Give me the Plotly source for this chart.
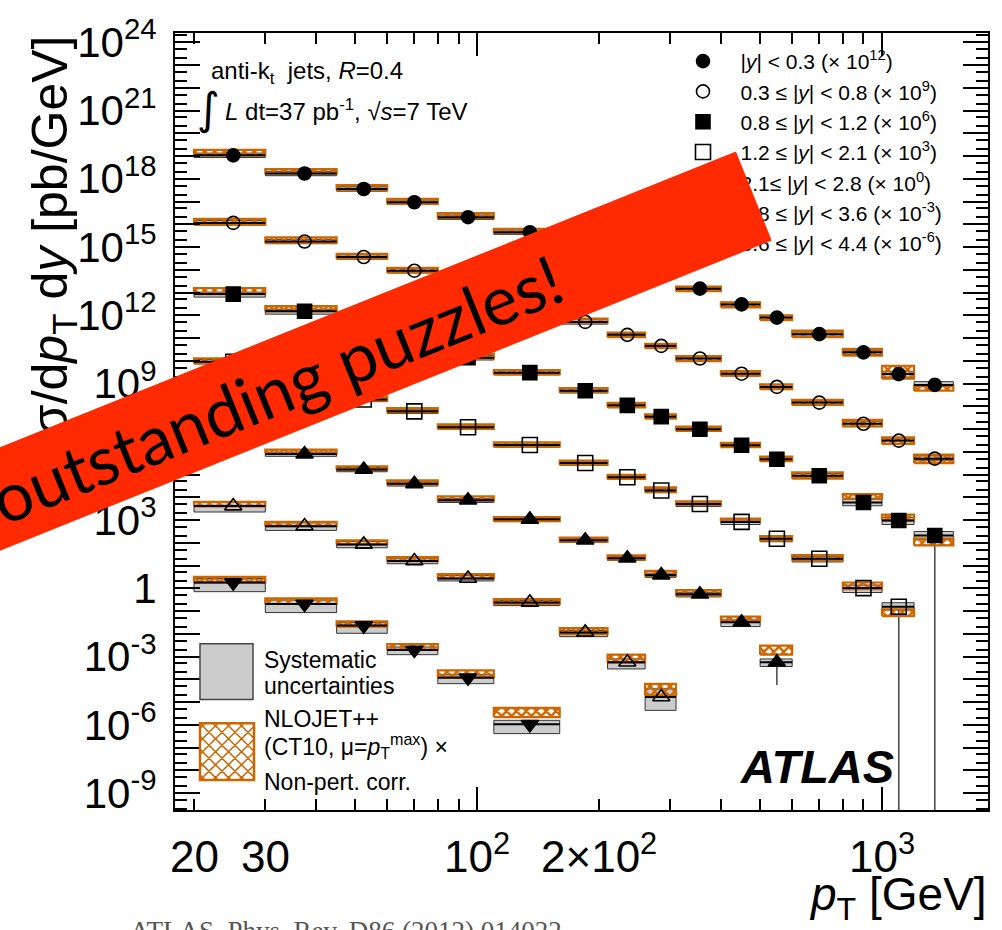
import math
import plotly.graph_objects as go

# ---------------------------------------------------------------- data
PT_EDGES = [20, 30, 45, 60, 80, 110, 160, 210, 260, 310, 400, 500, 600, 800, 1000, 1200, 1500]

RAPIDITY_LABELS = [
    "|<i>y</i>| &lt; 0.3 (× 10<sup>12</sup>)",
    "0.3 ≤ |<i>y</i>| &lt; 0.8 (× 10<sup>9</sup>)",
    "0.8 ≤ |<i>y</i>| &lt; 1.2 (× 10<sup>6</sup>)",
    "1.2 ≤ |<i>y</i>| &lt; 2.1 (× 10<sup>3</sup>)",
    "2.1≤ |<i>y</i>| &lt; 2.8 (× 10<sup>0</sup>)",
    "2.8 ≤ |<i>y</i>| &lt; 3.6 (× 10<sup>-3</sup>)",
    "3.6 ≤ |<i>y</i>| &lt; 4.4 (× 10<sup>-6</sup>)",
]
SCALE_EXP = [12, 9, 6, 3, 0, -3, -6]

# cross sections d2sigma/dpT dy in pb/GeV (before the legend scale factor)
XSEC = [
    [1.07e7, 1.70e6, 3.55e5, 9.3e4, 2.04e4, 4.47e3, 7.9e2, 2.0e2, 60, 14.8, 3.0, 0.79, 0.148, 2.34e-2, 2.6e-3, 8.7e-4],
    [1.15e7, 1.74e6, 3.63e5, 9.1e4, 1.78e4, 3.2e3, 5.1e2, 1.38e2, 45, 12.6, 2.7, 0.71, 0.145, 1.7e-2, 3.1e-3, 5.0e-4],
    [8.5e6, 1.51e6, 2.8e5, 6.2e4, 1.35e4, 3.0e3, 4.8e2, 1.10e2, 35, 9.8, 1.95, 0.47, 8.9e-2, 5.9e-3, 9.5e-4, 2.1e-4],
    [9.1e6, 1.2e6, 2.0e5, 6.0e4, 1.2e4, 2.0e3, 3.2e2, 76, 20, 5.1, 0.83, 0.15, 2.0e-2, 1.02e-3, 1.55e-4],
    [5.8e6, 7.9e5, 1.66e5, 3.9e4, 7.4e3, 1.07e3, 1.29e2, 21, 3.8, 0.55, 3.2e-2, 5.6e-4],
    [4.1e6, 5.4e5, 8.5e4, 1.58e4, 2.7e3, 2.4e2, 11.5, 0.56, 1.66e-2],
    [1.78e6, 2.04e5, 2.29e4, 1.95e3, 1.17e2, 1.05],
]
# systematic uncertainties, percent
SYS_UP = [
    [25, 25, 25, 25, 25, 25, 25, 25, 25, 25, 25, 25, 25, 25, 32, 39],
    [25, 25, 25, 25, 25, 25, 25, 25, 25, 25, 25, 25, 25, 30, 30, 35],
    [22, 22, 25, 25, 25, 25, 25, 25, 25, 25, 25, 25, 25, 40, 35, 50],
    [25, 25, 25, 25, 25, 25, 25, 25, 25, 22, 22, 22, 22, 35, 50],
    [22, 22, 22, 22, 22, 22, 22, 22, 22, 22, 27, 40],
    [50, 40, 35, 35, 35, 22, 22, 40, 130],
    [50, 50, 35, 35, 35, 50],
]
SYS_DN = [
    [20, 20, 20, 20, 20, 20, 20, 20, 20, 20, 20, 20, 20, 20, 28, 16],
    [20, 20, 20, 20, 20, 20, 20, 20, 20, 20, 20, 20, 20, 25, 25, 18],
    [26, 26, 20, 20, 20, 20, 20, 20, 20, 20, 20, 20, 20, 28, 33, 35],
    [20, 20, 20, 20, 20, 20, 20, 20, 20, 23, 23, 26, 28, 36, 28],
    [20, 20, 20, 20, 20, 20, 20, 20, 20, 24, 35, 35],
    [45, 35, 29, 24, 22, 28, 35, 49, 74],
    [60, 58, 54, 38, 45, 61],
]
# NLOJET++ x non-pert. corr. band, as ratio to data (lower / upper edge)
THEORY_LO = [
    [1.00, 1.00, 0.90, 0.84, 0.90, 0.90, 0.86, 0.86, 0.86, 0.78, 0.74, 0.77, 0.74, 0.72, 0.63, 0.56],
    [0.82, 0.87, 0.84, 0.82, 0.82, 0.82, 0.93, 0.79, 0.79, 0.77, 0.82, 0.79, 0.79, 0.76, 0.71, 0.64],
    [1.00, 1.00, 0.95, 0.95, 0.95, 0.84, 0.87, 0.82, 0.84, 0.85, 0.82, 0.82, 0.74, 1.50, 1.00, 0.37],
    [0.84, 0.86, 0.88, 0.90, 0.85, 0.84, 0.85, 0.84, 0.84, 0.88, 1.00, 0.85, 0.85, 0.90, 0.39],
    [0.90, 1.11, 1.00, 0.94, 0.97, 0.84, 0.87, 0.87, 0.93, 0.84, 1.11, 2.17],
    [0.97, 1.00, 1.00, 1.00, 1.00, 0.85, 0.85, 0.97, 1.19],
    [1.00, 1.00, 0.90, 1.00, 1.06, 2.09],
]
THEORY_HI = [
    [1.74, 1.57, 1.50, 1.39, 1.50, 1.42, 1.35, 1.35, 1.35, 1.22, 1.22, 1.27, 1.42, 1.42, 2.33, 0.93],
    [1.50, 1.54, 1.39, 1.35, 1.35, 1.35, 1.39, 1.26, 1.22, 1.27, 1.31, 1.30, 1.31, 1.50, 1.39, 1.50],
    [1.83, 1.66, 1.50, 1.50, 1.50, 1.31, 1.30, 1.27, 1.26, 1.31, 1.27, 1.31, 1.39, 2.33, 1.83, 0.72],
    [1.39, 1.35, 1.35, 1.39, 1.35, 1.30, 1.27, 1.26, 1.35, 1.31, 1.41, 1.31, 1.45, 1.76, 0.77],
    [1.35, 1.56, 1.39, 1.41, 1.50, 1.26, 1.30, 1.35, 1.54, 1.50, 1.78, 5.38],
    [1.54, 1.54, 1.50, 1.50, 1.54, 1.41, 1.56, 2.17, 3.82],
    [1.78, 1.76, 1.54, 1.83, 2.09, 5.33],
]
# downward statistical uncertainty, percent (only the visible ones are non-zero)
STAT_DN = [
    [0, 0, 0, 0, 0, 0, 0, 0, 0, 0, 0, 0, 0, 0, 0, 0],
    [0, 0, 0, 0, 0, 0, 0, 0, 0, 0, 0, 0, 0, 0, 0, 0],
    [0, 0, 0, 0, 0, 0, 0, 0, 0, 0, 0, 0, 0, 0, 0, 100],
    [0, 0, 0, 0, 0, 0, 0, 0, 0, 0, 0, 0, 0, 0, 100],
    [0, 0, 0, 0, 0, 0, 0, 0, 0, 0, 0, 90],
    [0, 0, 0, 0, 0, 0, 0, 0, 0],
    [0, 0, 0, 0, 0, 0],
]

X_TICK_VALUES = [20, 30, 100, 200, 1000]
X_TICK_TEXT = ["20", "30", "10<sup>2</sup>", "2×10<sup>2</sup>", "10<sup>3</sup>"]
Y_LABEL_EXPONENTS = [-9, -6, -3, 0, 3, 6, 9, 12, 15, 18, 21, 24]

# ---------------------------------------------------------------- style
MARKER_SYMBOLS = ["circle", "circle-open", "square", "square-open",
                  "triangle-up", "triangle-up-open", "triangle-down"]
MARKER_SIZES = [13, 13, 14, 15, 15, 15, 15]
ORANGE = "#cc6600"
GRAY = "#cccccc"
BANNER_RED = "#ff2a00"
FONT = "Liberation Sans, Arial, Helvetica, sans-serif"

X_RANGE = [1.2541, 3.2617]
Y_RANGE = [-9.744, 24.406]

# plot frame in page pixels (used for placing decorations)
PL, PR, PT, PB = 175, 988, 30, 810


def px(xp):
    return (xp - PL) / (PR - PL)


def py(yp):
    return (PB - yp) / (PB - PT)


# ---------------------------------------------------------------- build geometry
gx, gy, tx, ty, lx, ly, sx, sy = [], [], [], [], [], [], [], []
bottom_val = 10 ** (Y_RANGE[0] - 1)
for s in range(len(XSEC)):
    scale = 10.0 ** SCALE_EXP[s]
    for i, v0 in enumerate(XSEC[s]):
        x0, x1 = PT_EDGES[i], PT_EDGES[i + 1]
        xc = 0.5 * (x0 + x1)
        v = v0 * scale
        lo = v * (1 - SYS_DN[s][i] / 100.0)
        hi = v * (1 + SYS_UP[s][i] / 100.0)
        gx += [x0, x1, x1, x0, x0, None]
        gy += [lo, lo, hi, hi, lo, None]
        tlo = v * THEORY_LO[s][i]
        thi = v * THEORY_HI[s][i]
        tx += [x0, x1, x1, x0, x0, None]
        ty += [tlo, tlo, thi, thi, tlo, None]
        lx += [x0, x1, None]
        ly += [v, v, None]
        if STAT_DN[s][i] > 0:
            low = v * (1 - STAT_DN[s][i] / 100.0)
            if low <= 0:
                low = bottom_val
            sx += [xc, xc, None]
            sy += [v, low, None]

fig = go.Figure()
fig.add_trace(go.Scatter(x=sx, y=sy, mode="lines", line=dict(color="#444444", width=1.5),
                         showlegend=False, hoverinfo="skip"))
fig.add_trace(go.Scatter(x=gx, y=gy, mode="lines", fill="toself", fillcolor=GRAY,
                         line=dict(color="#333333", width=1), showlegend=False, hoverinfo="skip"))
fig.add_trace(go.Scatter(x=tx, y=ty, mode="lines", fill="toself",
                         fillpattern=dict(shape="x", size=7, solidity=0.6, fgcolor=ORANGE,
                                          bgcolor="rgba(0,0,0,0)", fillmode="replace"),
                         line=dict(color=ORANGE, width=2.2), showlegend=False, hoverinfo="skip"))
fig.add_trace(go.Scatter(x=lx, y=ly, mode="lines", line=dict(color="black", width=2),
                         showlegend=False, hoverinfo="skip"))

for s in range(len(XSEC)):
    scale = 10.0 ** SCALE_EXP[s]
    xs = [0.5 * (PT_EDGES[i] + PT_EDGES[i + 1]) for i in range(len(XSEC[s]))]
    ys = [v * scale for v in XSEC[s]]
    fig.add_trace(go.Scatter(
        x=xs, y=ys, mode="markers",
        marker=dict(symbol=MARKER_SYMBOLS[s], size=MARKER_SIZES[s], color="black",
                    line=dict(color="black", width=1.6)),
        name="&nbsp;&nbsp;&nbsp;" + RAPIDITY_LABELS[s], legendgroup="g%d" % s,
        showlegend=True, hoverinfo="skip"))

# invisible helper trace that activates the overlay axis carrying the unlabeled decade ticks
fig.add_trace(go.Scatter(x=[100], y=[1e-30], yaxis="y2", mode="markers",
                         marker=dict(opacity=0), showlegend=False, hoverinfo="skip"))

# ---------------------------------------------------------------- axes
label_vals = [10.0 ** k for k in Y_LABEL_EXPONENTS]
label_text = ["1" if k == 0 else "10<sup>%d</sup>" % k for k in Y_LABEL_EXPONENTS]
other_decades = [10.0 ** k for k in range(-9, 25) if k not in Y_LABEL_EXPONENTS]
y_minor = []
for k in range(-10, 25):
    y_minor += [2 * 10.0 ** k, 5 * 10.0 ** k]

x_minor = [20, 30, 40, 50, 60, 70, 80, 90, 200, 300, 400, 500, 600, 700, 800, 900]

fig.update_xaxes(type="log", range=X_RANGE, showline=True, linewidth=2, linecolor="black",
                 mirror="ticks", ticks="inside", tickmode="array", tickvals=[100, 1000],
                 ticklen=23, tickwidth=1.5, tickcolor="black", showticklabels=False,
                 showgrid=False, zeroline=False,
                 minor=dict(ticks="inside", tickmode="array", tickvals=x_minor, ticklen=11,
                            tickwidth=1.5, tickcolor="black", showgrid=False))
fig.update_layout(
    yaxis=dict(type="log", range=Y_RANGE, showline=True, linewidth=2, linecolor="black",
               mirror="ticks", ticks="inside", tickmode="array", tickvals=label_vals,
               ticktext=label_text, ticklen=25, tickwidth=1.5, tickcolor="black",
               tickfont=dict(size=42, family=FONT, color="black"), ticklabelstandoff=8,
               showgrid=False, zeroline=False,
               minor=dict(ticks="inside", tickmode="array", tickvals=y_minor, ticklen=12,
                          tickwidth=1.5, tickcolor="black", showgrid=False)),
    yaxis2=dict(type="log", range=Y_RANGE, overlaying="y", anchor="x", side="left",
                showline=False, mirror="ticks", ticks="inside", tickmode="array",
                tickvals=other_decades, ticklen=25, tickwidth=1.5, tickcolor="black",
                showticklabels=False, showgrid=False, zeroline=False),
)

# ---------------------------------------------------------------- annotations
ann = []
for v, t in zip(X_TICK_VALUES, X_TICK_TEXT):
    ann.append(dict(x=math.log10(v), xref="x", y=py(883), yref="paper", text=t,
                    showarrow=False, xanchor="center", yanchor="bottom",
                    font=dict(size=44, family=FONT, color="black")))
ann.append(dict(x=px(989), y=py(866), xref="paper", yref="paper",
                text="<i>p</i><sub>T</sub> [GeV]", showarrow=False,
                xanchor="right", yanchor="top", font=dict(size=46, family=FONT, color="black")))
ann.append(dict(x=px(49), y=py(31), xref="paper", yref="paper", textangle=-90,
                text="d<sup>2</sup>σ/d<i>p</i><sub>T</sub> d<i>y</i> [pb/GeV]", showarrow=False,
                xanchor="center", yanchor="top", font=dict(size=50, family=FONT, color="black")))
ann.append(dict(x=px(209), y=py(52), xref="paper", yref="paper",
                text="anti-k<sub>t</sub>  jets, <i>R</i>=0.4", showarrow=False,
                xanchor="left", yanchor="top", font=dict(size=24, family=FONT, color="black")))
ann.append(dict(x=px(208), y=py(106), xref="paper", yref="paper", text="∫", showarrow=False,
                xanchor="center", yanchor="middle",
                font=dict(size=44, family="DejaVu Sans", color="black")))
ann.append(dict(x=px(223), y=py(124.5), xref="paper", yref="paper",
                text="<i>L</i> dt=37 pb<sup>-1</sup>, √<i>s</i>=7 TeV", showarrow=False,
                xanchor="left", yanchor="bottom", font=dict(size=24, family=FONT, color="black")))
ann.append(dict(x=px(817), y=py(766.5), xref="paper", yref="paper",
                text="<b><i>ATLAS</i></b>", showarrow=False, xanchor="center", yanchor="middle",
                font=dict(size=47, family=FONT, color="black")))
for txt, yc in [("Systematic", 659), ("uncertainties", 686), ("NLOJET++", 718.5),
                ("(CT10, μ=<i>p</i><sub>T</sub><sup>max</sup>) ×", 746), ("Non-pert. corr.", 782)]:
    ann.append(dict(x=px(262), y=py(yc), xref="paper", yref="paper", text=txt,
                    showarrow=False, xanchor="left", yanchor="middle",
                    font=dict(size=23, family=FONT, color="black")))
ann.append(dict(x=px(128), y=py(931), xref="paper", yref="paper",
                text="ATLAS, Phys. Rev. D86 (2012) 014022", showarrow=False,
                xanchor="left", yanchor="middle",
                font=dict(size=27, family="Liberation Serif, Times New Roman, serif", color="#555555")))
# banner overlay (drawn last so it sits on top of everything)
ann.append(dict(x=px(276), y=py(386.5), xref="paper", yref="paper",
                text="outstanding puzzles!", showarrow=False, textangle=-21.9,
                xanchor="center", yanchor="middle", width=1030, height=96,
                align="center", valign="middle", bgcolor=BANNER_RED, borderpad=0, borderwidth=0,
                font=dict(size=68, family="Lato, Open Sans, sans-serif", color="black")))

# ---------------------------------------------------------------- legend boxes
shapes = []
shapes.append(dict(type="rect", xref="paper", yref="paper", x0=px(200), x1=px(253),
                   y0=py(699), y1=py(643), fillcolor=GRAY, line=dict(color="#444444", width=1.5)))
X0, X1, Y0, Y1 = 200.0, 254.0, 723.0, 780.0
path = ""
step = 13.0
c = X0 + Y0 - 60
while c < X1 + Y1 + 60:
    xa, xb = max(X0, c - Y1), min(X1, c - Y0)
    if xb > xa:
        path += "M%.5f,%.5f L%.5f,%.5f " % (px(xa), py(c - xa), px(xb), py(c - xb))
    c += step
c = X0 - Y1 - 60
while c < X1 - Y0 + 60:
    xa, xb = max(X0, c + Y0), min(X1, c + Y1)
    if xb > xa:
        path += "M%.5f,%.5f L%.5f,%.5f " % (px(xa), py(xa - c), px(xb), py(xb - c))
    c += step
shapes.append(dict(type="path", xref="paper", yref="paper", path=path,
                   line=dict(color=ORANGE, width=1.5)))
shapes.append(dict(type="rect", xref="paper", yref="paper", x0=px(X0), x1=px(X1),
                   y0=py(Y1), y1=py(Y0), line=dict(color=ORANGE, width=2.5)))

fig.update_layout(
    width=1002, height=930,
    margin=dict(l=PL, r=1002 - PR, t=PT, b=930 - PB),
    paper_bgcolor="white", plot_bgcolor="white",
    font=dict(family=FONT, color="black"),
    showlegend=True,
    legend=dict(x=px(683), y=py(38), xanchor="left", yanchor="top",
                bgcolor="rgba(0,0,0,0)", borderwidth=0, font=dict(size=21, family=FONT),
                traceorder="grouped", tracegroupgap=0),
    annotations=ann, shapes=shapes, hovermode=False,
)

fig.write_html("out.html")
